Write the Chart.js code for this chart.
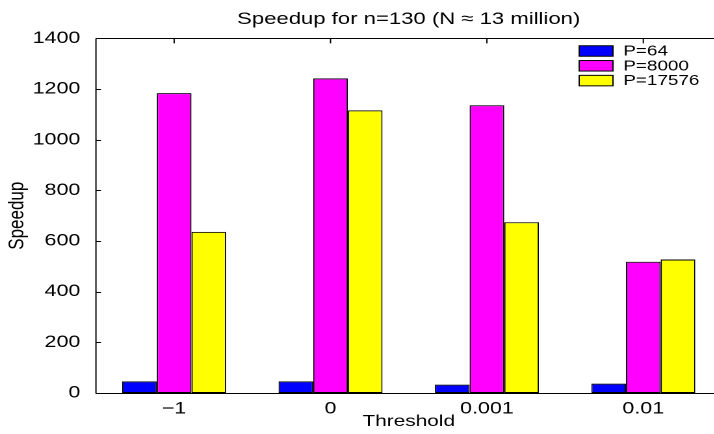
<!DOCTYPE html>
<html>
<head>
<meta charset="utf-8">
<script src="https://cdn.jsdelivr.net/npm/chart.js@4.4.1/dist/chart.umd.min.js"></script>
<style>
html,body{margin:0;padding:0;overflow:hidden;background:#fff;width:714px;height:434px}
#wrap{position:absolute;left:0;top:0;width:557px;height:434px;transform:scaleX(1.3);transform-origin:0 0}
#c{width:557px;height:434px;display:block}
</style>
</head>
<body>
<div id="wrap"><canvas id="c" width="557" height="434" style="width:557px;height:434px"></canvas></div>
<script>
// ---- data ----
const categories = ['\u22121', '0', '0.001', '0.01'];
const seriesNames = ['P=64', 'P=8000', 'P=17576'];
const p64 = [46, 46, 33, 37];
const p8000 = [1184, 1242, 1136, 518];
const p17576 = [636, 1116, 674, 527];
const yTicks = [0, 200, 400, 600, 800, 1000, 1200, 1400];
const seriesColors = ['#0000ff', '#ff00ff', '#ffff00'];
const titleText = 'Speedup for n=130 (N \u2248 13 million)';
const xTitle = 'Threshold';
const yTitle = 'Speedup';

const FONT = "'Liberation Sans', Arial, Helvetica, sans-serif";
Chart.defaults.color = '#000';
Chart.defaults.font.family = FONT;

const boxPlugin = {
  id: 'matlabBox',
  beforeDatasetsDraw(chart) {
    const {ctx, chartArea: a, scales} = chart;
    ctx.save();
    ctx.strokeStyle = '#000';
    ctx.lineWidth = 1;
    ctx.beginPath();
    const tl = 5;
    yTicks.forEach(v => {
      const y = Math.round(scales.y.getPixelForValue(v)) + 0.5;
      ctx.moveTo(a.left, y); ctx.lineTo(a.left + tl / 1.3, y);
      ctx.moveTo(a.right, y); ctx.lineTo(a.right - tl / 1.3, y);
    });
    categories.forEach((c, i) => {
      const x = scales.x.getPixelForValue(i);
      ctx.moveTo(x, a.top); ctx.lineTo(x, a.top + tl);
      ctx.moveTo(x, a.bottom); ctx.lineTo(x, a.bottom - tl);
    });
    ctx.stroke();
    ctx.restore();
  },
  afterDatasetsDraw(chart) {
    const {ctx, chartArea: a} = chart;
    ctx.save();
    ctx.strokeStyle = '#000';
    ctx.lineWidth = 1;
    ctx.beginPath();
    const t = Math.round(a.top) + 0.5, b = Math.round(a.bottom) + 0.5;
    ctx.moveTo(a.left, t); ctx.lineTo(a.right, t);
    ctx.moveTo(a.left, b); ctx.lineTo(a.right, b);
    ctx.moveTo(a.left, t); ctx.lineTo(a.left, b);
    ctx.moveTo(a.right, t); ctx.lineTo(a.right, b);
    ctx.stroke();
    // legend
    const x0 = 445.5, sw = 26, sh = 10.5, tx = 479.5;
    ctx.font = '14.5px ' + FONT;
    ctx.textBaseline = 'middle';
    ctx.textAlign = 'left';
    chart.data.datasets.forEach((ds, i) => {
      const yc = 51 + i * 14.8;
      ctx.fillStyle = ds.backgroundColor;
      ctx.fillRect(x0, yc - sh / 2, sw, sh);
      ctx.strokeRect(x0, yc - sh / 2, sw, sh);
      ctx.fillStyle = '#000';
      ctx.fillText(ds.label, tx, yc + 0.5);
    });
    ctx.restore();
  }
};

new Chart(document.getElementById('c'), {
  type: 'bar',
  data: {
    labels: categories,
    datasets: [
      {label: seriesNames[0], data: p64, backgroundColor: seriesColors[0]},
      {label: seriesNames[1], data: p8000, backgroundColor: seriesColors[1]},
      {label: seriesNames[2], data: p17576, backgroundColor: seriesColors[2]}
    ].map(d => Object.assign(d, {borderColor: '#000', borderWidth: 1, borderSkipped: false,
      categoryPercentage: 0.665, barPercentage: 1.0}))
  },
  options: {
    responsive: false,
    animation: false,
    devicePixelRatio: 2,
    layout: {padding: {left: 0, right: 2, top: 0, bottom: 0}},
    plugins: {
      legend: {display: false},
      tooltip: {enabled: false},
      title: {
        display: true, text: titleText, fullSize: false,
        color: '#000', font: {size: 17, weight: 'normal', family: FONT, lineHeight: 1.2},
        padding: {top: 9, bottom: 9}
      }
    },
    scales: {
      x: {
        grid: {display: false}, border: {display: false},
        ticks: {font: {size: 16.5, family: FONT}, padding: -2, color: '#000', maxRotation: 0},
        title: {display: true, text: xTitle, font: {size: 16, family: FONT}, padding: {top: 0, bottom: 3}, color: '#000'},
        afterFit(s) { s.height = 41; }
      },
      y: {
        min: 0, max: 1400,
        grid: {display: false}, border: {display: false},
        ticks: {stepSize: 200, font: {size: 16.5, family: FONT}, padding: 4, color: '#000',
          callback: v => String(v)},
        title: {display: true, text: yTitle, font: {size: 17, family: FONT}, padding: {top: 3, bottom: 0}, color: '#000'},
        afterFit(s) { s.width = 73.8; }
      }
    }
  },
  plugins: [boxPlugin]
});
</script>
</body>
</html>
